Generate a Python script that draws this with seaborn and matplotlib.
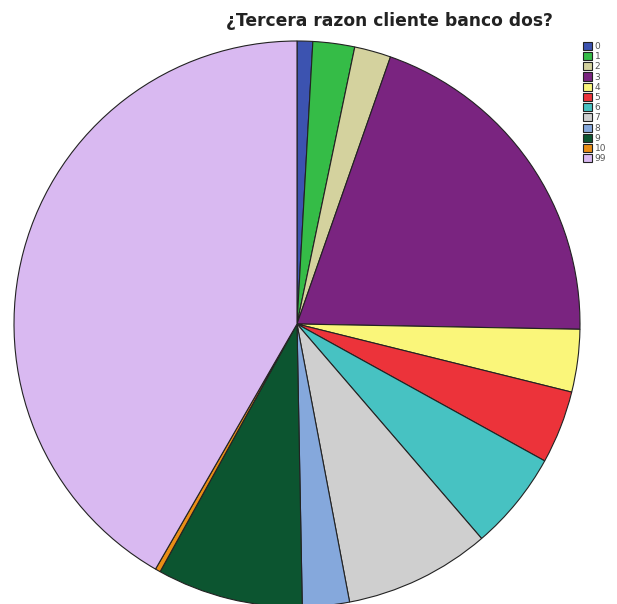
import matplotlib
matplotlib.use("Agg")
import matplotlib.pyplot as plt
import seaborn as sns

sns.set_theme(style="white")
plt.rcParams['font.family'] = ['DejaVu Sans']

categories = ["0", "1", "2", "3", "4", "5", "6", "7", "8", "9", "10", "99"]
counts = [3, 8, 7, 67, 12, 14, 19, 28, 9, 28, 1, 140]
hex_colors = ["#3C53B0", "#35BC47", "#D4D29E", "#7A2480", "#FAF67A", "#EC333A",
              "#47C2C2", "#CFCFCF", "#85A8DC", "#0C5530", "#EA8E15", "#D9B9F1"]
palette = sns.color_palette(hex_colors)

W, H = 617, 604
fig = plt.figure(figsize=(W / 100, H / 100), dpi=100)

cx, cy, r = 297, 324, 283
ax = fig.add_axes([(cx - r) / W, (H - cy - r) / H, 2 * r / W, 2 * r / H])
wedges, _ = ax.pie(counts, colors=palette, startangle=90, counterclock=False,
                   wedgeprops=dict(edgecolor="#222222", linewidth=0.8))
ax.set_xlim(-1, 1)
ax.set_ylim(-1, 1)
ax.axis("off")

fig.text(389 / W, 1 - 21 / H, "¿Tercera razon cliente banco dos?",
         ha="center", va="center", fontsize=12.3, fontweight="bold", color="#222222")

leg = fig.legend(wedges, categories, loc="upper left",
                 bbox_to_anchor=(581 / W, 1 - 40 / H), frameon=False,
                 fontsize=6.5, handlelength=1.0, handleheight=1.0,
                 handletextpad=0.3, labelspacing=0.12, borderpad=0.2,
                 borderaxespad=0)
for t in leg.get_texts():
    t.set_color("#555555")

fig.savefig("out.png", dpi=100, facecolor="white")
